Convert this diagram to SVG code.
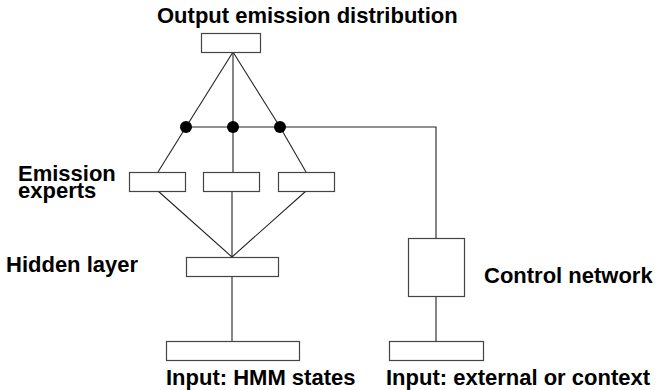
<svg xmlns="http://www.w3.org/2000/svg" width="657" height="390" viewBox="0 0 657 390">
<style>
.box{fill:#fff;stroke:#444;stroke-width:1.2}
.ln{stroke:#222;stroke-width:1.1;fill:none}
.dot{fill:#000}
.lbl{font-family:"Liberation Sans",Arial,sans-serif;font-weight:bold;font-size:22px;fill:#000}
</style>
<rect width="657" height="390" fill="#fff"/>
<g id="connectors">
<line class="ln" x1="233" y1="52" x2="186" y2="127"/>
<line class="ln" x1="233" y1="52" x2="233" y2="127"/>
<line class="ln" x1="233" y1="52" x2="280" y2="127"/>
<polyline class="ln" points="186,127 436,127 436,238"/>
<line class="ln" x1="186" y1="127" x2="158" y2="172"/>
<line class="ln" x1="233" y1="127" x2="233" y2="172"/>
<line class="ln" x1="280" y1="127" x2="306" y2="172"/>
<line class="ln" x1="158" y1="191" x2="232" y2="257"/>
<line class="ln" x1="232" y1="191" x2="232" y2="257"/>
<line class="ln" x1="306" y1="191" x2="232" y2="257"/>
<line class="ln" x1="232" y1="276" x2="232" y2="341"/>
<line class="ln" x1="436" y1="296" x2="436" y2="341"/>
</g>
<g id="output"><rect class="box" x="201.5" y="33.5" width="59" height="19"/>
<text class="lbl" x="157" y="23">Output emission distribution</text></g>
<g id="dots">
<circle class="dot" cx="186" cy="127" r="6"/>
<circle class="dot" cx="233" cy="127" r="6"/>
<circle class="dot" cx="280" cy="127" r="6"/>
</g>
<g id="experts">
<rect class="box" x="129.5" y="172.5" width="56" height="19"/>
<rect class="box" x="203.5" y="172.5" width="56" height="19"/>
<rect class="box" x="278.5" y="172.5" width="56" height="19"/>
<text class="lbl" x="18" y="181">Emission</text>
<text class="lbl" x="18" y="198">experts</text>
</g>
<g id="hidden"><rect class="box" x="186.5" y="257.5" width="92" height="19"/>
<text class="lbl" x="6" y="272">Hidden layer</text></g>
<g id="control"><rect class="box" x="408.5" y="238.5" width="56" height="58"/>
<text class="lbl" x="484" y="283">Control network</text></g>
<g id="input-hmm"><rect class="box" x="166.5" y="341.5" width="133" height="19"/>
<text class="lbl" x="166" y="385">Input: HMM states</text></g>
<g id="input-ext"><rect class="box" x="389.5" y="341.5" width="94" height="19"/>
<text class="lbl" x="386" y="385">Input: external or context</text></g>
</svg>
